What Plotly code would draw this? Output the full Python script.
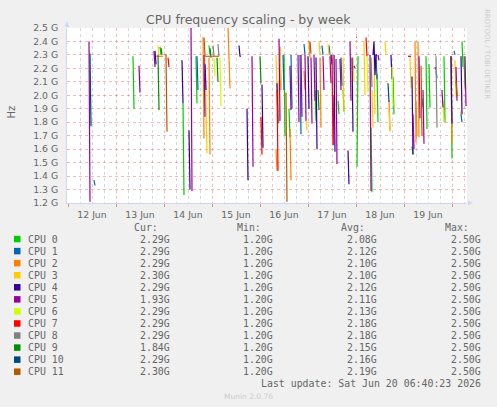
import plotly.graph_objects as go
from datetime import datetime, timedelta

# ---------------- data (hours after 12 Jun 00:00, then consecutive 30-min samples) -------------
series_names = [f"CPU {i}" for i in range(12)]
series_colors = ["#00CC00", "#0066B3", "#FF8000", "#FFCC00", "#330099", "#990099",
                 "#CCFF00", "#FF0000", "#808080", "#008F00", "#00487D", "#B35A00"]

cpu0 = [(32.5, 2.29, 1.90), (46.0, 2.36, 2.30), (57.5, 1.94, 1.26), (64.0, 2.29, 1.94),
        (70.5, 2.37, 2.30), (108.0, 2.30, 1.70), (110.5, 1.90, 1.69), (123.5, 2.04, 1.81),
        (135.0, 1.96, 1.86), (137.5, 2.04, 1.88), (144.5, 1.47, 2.29), (151.5, 1.76, 1.28),
        (154.5, 2.16, 1.80), (162.5, 2.14, 1.86), (172.0, 1.62, 1.56), (177.0, 1.98, 1.91),
        (179.0, 2.29, 1.75), (180.5, 2.23, 1.91), (188.0, 2.29, 1.80), (191.5, 2.29, 1.53),
        (197.0, 2.40, 2.21), (198.0, 2.29, 2.05)]
cpu1 = [(13.0, 1.37, 1.33), (64.5, 2.29, 2.04), (107.5, 2.30, 2.04), (111.5, 2.30, 1.90),
        (116.0, 2.30, 1.71), (118.0, 2.38, 2.30), (127.0, 2.37, 2.30), (130.5, 2.37, 2.30),
        (136.5, 2.28, 2.07), (154.0, 2.30, 2.12), (184.0, 2.18, 2.13), (193.0, 2.33, 2.30),
        (196.5, 1.86, 1.80)]
cpu2 = [(43.5, 2.29, 2.29, 2.29, 2.29, 2.29, 2.29, 2.29, 2.29, 2.29), (67.5, 2.43, 1.68),
        (70.5, 2.28, 1.56), (80.0, 2.50, 2.32, 2.05), (104.0, 1.60, 1.44), (106.0, 2.36, 2.04),
        (111.0, 1.75, 1.37), (118.0, 2.18, 2.04), (120.5, 2.40, 2.28), (126.0, 2.28, 1.76),
        (160.5, 1.96, 1.74), (173.5, 2.40, 1.65), (174.0, 1.95, 1.70), (175.0, 2.40, 1.69),
        (191.5, 2.29, 1.65), (194.0, 2.10, 2.00)]
cpu3 = [(35.0, 1.96, 1.96), (45.0, 2.37, 2.30), (68.5, 2.28, 1.95, 1.57), (104.0, 2.30, 2.04),
        (105.0, 2.10, 1.80), (106.0, 2.35, 2.10), (119.0, 1.81, 1.74), (125.5, 2.40, 2.30),
        (130.0, 2.38, 2.30), (137.5, 2.28, 1.88), (140.5, 1.75, 1.75), (142.5, 2.28, 2.10),
        (148.0, 2.40, 2.00), (152.0, 2.04, 1.76), (153.0, 2.28, 1.86), (158.5, 2.40, 2.30),
        (160.5, 1.89, 1.73), (171.0, 2.29, 2.05), (187.5, 1.96, 1.80), (193.5, 2.26, 1.99),
        (196.0, 1.88, 1.86)]
cpu4 = [(43.5, 2.33, 2.23), (57.0, 2.26, 1.94), (60.5, 1.74, 1.30), (68.5, 2.23, 2.04),
        (85.5, 2.37, 2.29, 2.29), (89.5, 1.90, 1.37), (97.0, 2.08, 1.61), (104.5, 2.09, 1.79),
        (120.0, 2.29, 1.90), (124.0, 2.28, 1.60), (131.5, 2.30, 2.23), (133.0, 2.30, 1.58),
        (140.0, 1.59, 1.34), (142.0, 2.28, 1.73), (152.5, 2.30, 2.40, 2.15, 2.30, 2.30),
        (161.5, 2.30, 2.12), (172.0, 2.14, 1.56), (191.5, 2.29, 1.79), (196.5, 2.29, 1.86)]
cpu5 = [(10.5, 2.40, 1.21), (35.5, 2.22, 2.02), (43.0, 2.33, 2.21), (61.5, 2.50, 1.29),
        (68.0, 2.30, 1.84), (92.0, 2.29, 1.47), (105.5, 2.42, 1.81), (111.0, 2.22, 1.89),
        (115.0, 2.30, 1.80), (116.5, 2.30, 1.84), (118.5, 2.30, 1.81), (121.5, 2.28, 1.79),
        (123.0, 2.30, 1.96), (127.5, 2.29, 2.04), (131.0, 2.29, 2.09), (132.5, 2.00, 1.63),
        (134.0, 2.27, 1.49), (136.0, 2.27, 2.04), (141.0, 2.40, 1.96), (143.0, 2.22, 2.20),
        (151.0, 2.30, 1.29), (155.0, 2.30, 2.26), (170.0, 2.29, 2.29, 2.29, 2.29),
        (172.5, 1.86, 1.60), (175.5, 2.29, 1.83), (177.5, 2.04, 1.64), (183.5, 2.21, 2.19),
        (187.0, 2.04, 1.91), (194.0, 2.21, 1.96), (198.5, 2.29, 1.92)]
cpu6 = [(73.0, 2.28, 2.14), (76.0, 2.28, 1.92), (149.5, 2.29, 2.02), (162.0, 2.21, 1.92)]
cpu7 = [(50.0, 2.28, 2.21), (96.5, 1.84, 1.56), (104.5, 2.04, 1.44), (132.0, 2.30, 1.63),
        (149.0, 2.43, 2.29)]
cpu8 = [(72.5, 2.37, 2.29), (75.0, 2.38, 2.29), (144.0, 2.43, 2.43), (151.5, 2.28, 2.06),
        (184.0, 2.29, 1.76)]
cpu9 = [(45.0, 2.30, 1.89), (46.5, 2.35, 2.30), (71.0, 2.35, 2.28), (74.5, 2.28, 2.10),
        (96.0, 2.29, 2.09), (125.0, 2.04, 1.89)]
cpu10 = [(11.0, 2.31, 1.77), (160.0, 2.09, 1.95)]
cpu11 = [(48.5, 2.30, 2.30, 1.73),
         (68.0, 2.43, 2.29, 2.29, 2.29, 2.29, 2.29, 2.29, 2.29, 2.29, 2.29, 2.29, 2.29, 2.29, 2.29, 2.29, 2.29),
         (109.0, 2.02, 1.21), (121.0, 2.40, 2.31), (176.5, 2.22, 1.70), (183.5, 2.30, 2.30),
         (194.0, 2.11, 1.99)]
all_series = [cpu0, cpu1, cpu2, cpu3, cpu4, cpu5, cpu6, cpu7, cpu8, cpu9, cpu10, cpu11]

cur_vals = [2.29, 2.29, 2.29, 2.30, 2.29, 1.93, 2.29, 2.29, 2.29, 1.84, 2.29, 2.30]
min_vals = [1.20] * 12
avg_vals = [2.08, 2.12, 2.10, 2.10, 2.12, 2.11, 2.13, 2.18, 2.18, 2.15, 2.16, 2.19]
max_vals = [2.50] * 12

y_ticks = [1.2, 1.3, 1.4, 1.5, 1.6, 1.7, 1.8, 1.9, 2.0, 2.1, 2.2, 2.3, 2.4, 2.5]
y_labels = ["1.2 G", "1.3 G", "1.4 G", "1.5 G", "1.6 G", "1.7 G", "1.8 G", "1.9 G",
            "2.0 G", "2.1 G", "2.2 G", "2.3 G", "2.4 G", "2.5 G"]

title_text = "CPU frequency scaling - by week"
last_update = "Last update: Sat Jun 20 06:40:23 2026"
base = datetime(2026, 6, 12)
x_start = base - timedelta(minutes=30)
x_end = base + timedelta(hours=199.5)

# ---------------- figure -------------
W, H = 497, 407
L, R, T, B = 67, 467, 28, 203


def px(x):
    return (x - L) / (R - L)


def py(y):
    return (B - y) / (B - T)


def expand(segs):
    xs, ys = [], []
    for s in segs:
        for i, v in enumerate(s[1:]):
            xs.append(base + timedelta(hours=s[0] + 0.5 * i))
            ys.append(v)
        xs.append(None)
        ys.append(None)
    return xs, ys


fig = go.Figure()
for name, col, segs in zip(series_names, series_colors, all_series):
    xs, ys = expand(segs)
    fig.add_trace(go.Scatter(x=xs, y=ys, mode="lines", name=name,
                             line=dict(color=col, width=1.2), connectgaps=False,
                             hoverinfo="skip"))

red_grid = "rgba(225,70,70,0.38)"
fig.update_layout(
    width=W, height=H,
    margin=dict(l=L, r=W - R, t=T, b=H - B, pad=0),
    paper_bgcolor="#F0F0F0", plot_bgcolor="#FFFFFF",
    showlegend=False,
    font=dict(family="DejaVu Sans", color="#666666"),
    xaxis=dict(type="date", range=[x_start, x_end], dtick=86400000, tick0="2026-06-12",
               tickformat="%d %b", ticklabelmode="period",
               showgrid=True, gridcolor=red_grid, griddash="dot", gridwidth=1,
               minor=dict(dtick=21600000, tick0="2026-06-12", showgrid=True,
                          gridcolor="rgba(150,150,150,0.4)", griddash="dot", gridwidth=1),
               ticks="outside", ticklen=3, tickcolor="rgba(225,70,70,0.6)",
               showline=True, linecolor="#CFD6F8", linewidth=1, zeroline=False,
               tickfont=dict(size=9.3, color="#666666")),
    yaxis=dict(range=[1.2, 2.5], tickvals=y_ticks, ticktext=y_labels,
               showgrid=True, gridcolor=red_grid, griddash="dot", gridwidth=1,
               showline=True, linecolor="#CFD6F8", linewidth=1, zeroline=False,
               ticks="", ticklabelstandoff=6, tickfont=dict(size=9.3, color="#666666")),
)

ann = []
shapes = []
# title and side texts
ann.append(dict(x=px(248), y=py(19), text=title_text, showarrow=False, xref="paper", yref="paper",
                xanchor="center", yanchor="middle", font=dict(size=12.5, color="#666666")))
ann.append(dict(x=px(10.5), y=py(112), text="Hz", showarrow=False, xref="paper", yref="paper",
                textangle=-90, xanchor="center", yanchor="middle", font=dict(size=10, color="#666666")))
ann.append(dict(x=px(487.5), y=py(53.5), text="RRDTOOL / TOBI OETIKER", showarrow=False,
                xref="paper", yref="paper", textangle=90, xanchor="center", yanchor="middle",
                font=dict(size=7, color="#CCCCCC")))
ann.append(dict(x=px(248), y=py(396), text="Munin 2.0.76", showarrow=False, xref="paper",
                yref="paper", xanchor="center", yanchor="middle", font=dict(size=7.5, color="#CCCCCC")))

# axis arrows
def tri(pts):
    p = " L ".join(f"{px(a):.5f},{py(b):.5f}" for a, b in pts)
    return "M " + p + " Z"

shapes.append(dict(type="path", xref="paper", yref="paper", path=tri([(64.5, 27), (69.5, 27), (67, 21)]),
                   fillcolor="#CFD6F8", line=dict(width=0)))
shapes.append(dict(type="path", xref="paper", yref="paper", path=tri([(468, 200.5), (468, 205.5), (473, 203)]),
                   fillcolor="#CFD6F8", line=dict(width=0)))

# legend
mono = dict(family="DejaVu Sans Mono", size=9.9, color="#666666")
header_y = 227
cols = [("Cur:", 159.5, 171.5, cur_vals), ("Min:", 263, 275, min_vals),
        ("Avg:", 367, 379, avg_vals), ("Max:", 470.5, 482.5, max_vals)]
for head, hx, vx, vals in cols:
    ann.append(dict(x=px(hx), y=py(header_y), text=head, showarrow=False, xref="paper", yref="paper",
                    xanchor="right", yanchor="middle", font=mono))
for i, name in enumerate(series_names):
    ry = 239 + 12.06 * i
    shapes.append(dict(type="rect", xref="paper", yref="paper", x0=px(14), x1=px(20.5),
                       y0=py(ry + 3.3), y1=py(ry - 3.2), fillcolor=series_colors[i], line=dict(width=0)))
    ann.append(dict(x=px(26), y=py(ry), text=name, showarrow=False, xref="paper", yref="paper",
                    xanchor="left", yanchor="middle", font=mono))
    for head, hx, vx, vals in cols:
        ann.append(dict(x=px(vx), y=py(ry), text=f"{vals[i]:.2f}G", showarrow=False, xref="paper",
                        yref="paper", xanchor="right", yanchor="middle", font=mono))
ann.append(dict(x=px(482.5), y=py(383), text=last_update, showarrow=False, xref="paper", yref="paper",
                xanchor="right", yanchor="middle", font=mono))

fig.update_layout(annotations=ann, shapes=shapes)
fig.write_html("out.html")
